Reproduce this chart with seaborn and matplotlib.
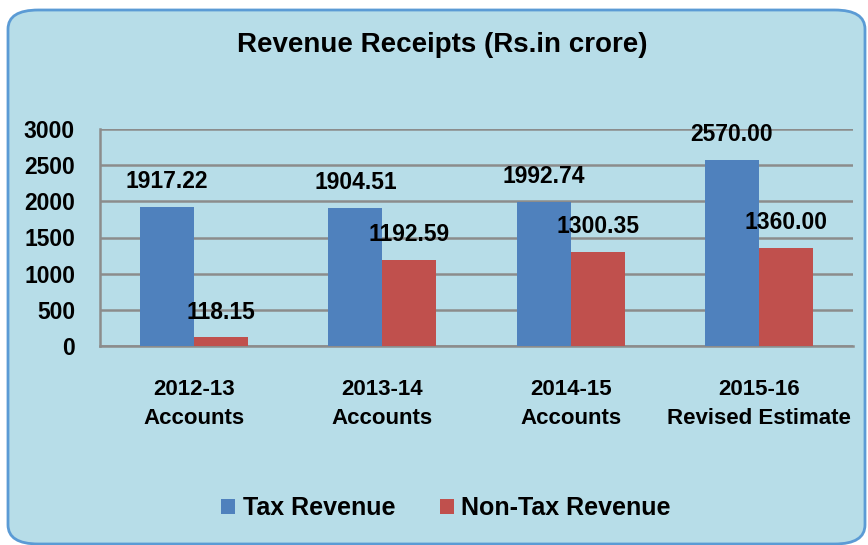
import matplotlib
matplotlib.use("Agg")
import matplotlib.pyplot as plt
import seaborn as sns
import pandas as pd
from matplotlib.patches import FancyBboxPatch
from matplotlib.ticker import FixedLocator

# --- DATA ---
periods = ['2012-13\nAccounts', '2013-14\nAccounts', '2014-15\nAccounts', '2015-16\nRevised Estimate']
tax_revenue = [1917.22, 1904.51, 1992.74, 2570.00]
non_tax_revenue = [118.15, 1192.59, 1300.35, 1360.00]
series_names = ['Tax Revenue', 'Non-Tax Revenue']
y_ticks = [0, 500, 1000, 1500, 2000, 2500, 3000]

BG = '#B7DDE8'
COLORS = ['#4F81BD', '#C0504D']
GRID = '#8C8C8C'

df = pd.DataFrame({
    'Period': periods * 2,
    'Value': tax_revenue + non_tax_revenue,
    'Series': [series_names[0]] * len(periods) + [series_names[1]] * len(periods),
})

sns.set_style('white')
plt.rcParams['font.family'] = ['Liberation Sans', 'DejaVu Sans']
plt.rcParams['font.weight'] = 'bold'
plt.rcParams['text.color'] = 'black'
plt.rcParams['xtick.color'] = 'black'
plt.rcParams['ytick.color'] = 'black'

fig = plt.figure(figsize=(8.68, 5.45), dpi=100)
fig.patch.set_facecolor('white')

# rounded chart-area background
box = FancyBboxPatch((8 / 868, 1 / 545), 857 / 868, 534 / 545,
                     boxstyle='round,pad=0,rounding_size=0.035',
                     transform=fig.transFigure, facecolor=BG,
                     edgecolor='#5B9BD5', linewidth=2, zorder=-5)
fig.patches.append(box)

ax = fig.add_axes([100 / 868, 1 - 346 / 545, 753 / 868, 217 / 545])
ax.set_facecolor('none')

sns.barplot(data=df, x='Period', y='Value', hue='Series', palette=COLORS,
            width=0.575, saturation=1, linewidth=0, ax=ax, legend=True, zorder=3)

for container in ax.containers:
    ax.bar_label(container, fmt='{:.2f}', padding=10, fontsize=16.5,
                 fontweight='bold', color='black')

ax.set_ylim(0, 3000)
ax.set_xlim(-0.5, len(periods) - 0.5)
ax.set_yticks(y_ticks)
ax.yaxis.grid(True, color=GRID, linewidth=1.8, zorder=0)
ax.set_axisbelow(True)
ax.set_xlabel('')
ax.set_ylabel('')

for side in ['top', 'right']:
    ax.spines[side].set_visible(False)
for side in ['left', 'bottom']:
    ax.spines[side].set_color(GRID)
    ax.spines[side].set_linewidth(1.8)

ax.tick_params(axis='y', length=6, width=1.8, color=GRID, labelsize=16.5, pad=12)
ax.tick_params(axis='x', which='major', length=0, labelsize=16, pad=24)
ax.xaxis.set_minor_locator(FixedLocator([i - 0.5 for i in range(len(periods) + 1)]))
ax.tick_params(axis='x', which='minor', length=6, width=1.8, color=GRID)
for lbl in ax.get_xticklabels():
    lbl.set_linespacing(1.5)
    lbl.set_fontweight('bold')
for lbl in ax.get_yticklabels():
    lbl.set_fontweight('bold')

ax.get_legend().remove()
handles, labels = ax.get_legend_handles_labels()
fig.legend(handles, labels, loc='center', bbox_to_anchor=(446 / 868, 1 - 508 / 545),
           ncol=2, frameon=False, prop={'size': 18, 'weight': 'bold'},
           handlelength=0.55, handleheight=0.55, handletextpad=0.3, columnspacing=1.8)

fig.text(442 / 868, 1 - 45 / 545, 'Revenue Receipts (Rs.in crore)', ha='center',
         va='center', fontsize=20, fontweight='bold')

fig.savefig('out.png', dpi=100)
